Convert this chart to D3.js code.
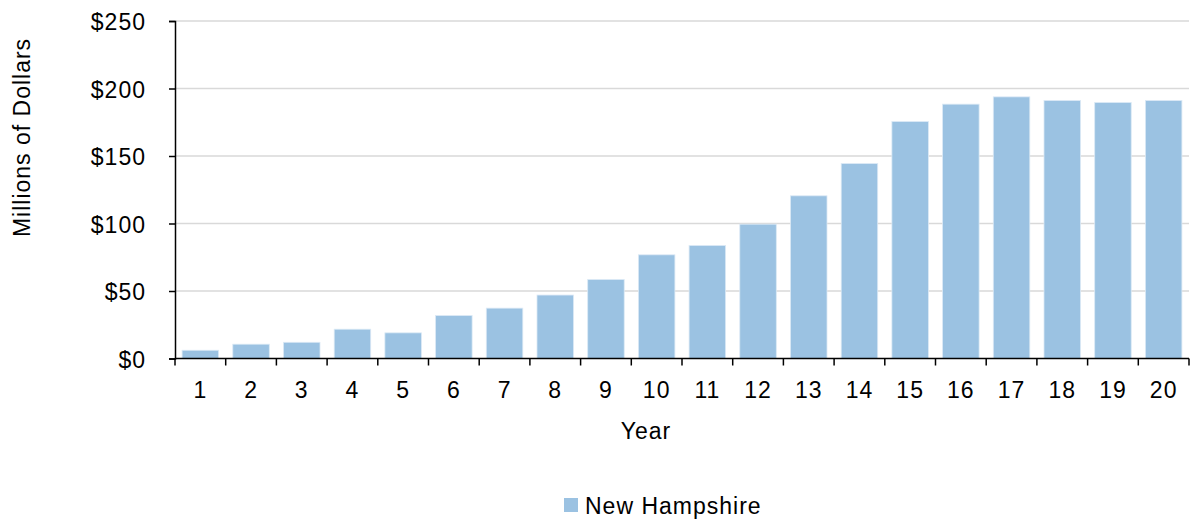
<!DOCTYPE html>
<html><head><meta charset="utf-8">
<script src="https://cdn.jsdelivr.net/npm/d3@7"></script>
<style>body{margin:0;background:#fff;} text{font-family:"Liberation Sans",Arial,sans-serif;}</style>
</head><body>
<svg id="chart" width="1193" height="521"></svg>
<script>
const years = ["1","2","3","4","5","6","7","8","9","10","11","12","13","14","15","16","17","18","19","20"];
const values = [6.1,10.6,12,21.7,19,31.8,37.3,47,58.5,76.8,83.7,99.5,120.5,144.4,175.5,188.4,193.8,191.1,189.6,191.1];
const yTicks = [0,50,100,150,200,250];
const seriesName = "New Hampshire";

(function () {
const svg = d3.select("#chart");
const mLeft = 175, mRight = 1189, mTop = 21, mBottom = 358.5;
const fs = 23, ls = 1.0;
const x = d3.scaleBand().domain(years).range([mLeft, mRight]).paddingInner(0.28).paddingOuter(0.14);
const y = d3.scaleLinear().domain([0, 250]).range([mBottom, mTop]);
const color = "#9bc2e2";

// gridlines
svg.append("g").selectAll("line").data(yTicks.filter(d => d > 0)).join("line")
  .attr("x1", mLeft).attr("x2", mRight).attr("y1", d => y(d)).attr("y2", d => y(d))
  .attr("stroke", "#d9d9d9").attr("stroke-width", 1.5);

// bars
svg.append("g").selectAll("rect").data(values).join("rect")
  .attr("x", (d, i) => x(years[i])).attr("width", x.bandwidth())
  .attr("y", d => y(d)).attr("height", d => y(0) - y(d))
  .attr("fill", color).attr("stroke", "#dbe9f5").attr("stroke-width", 0.8);

// y axis
const yAxis = svg.append("g").attr("transform", `translate(${mLeft},0)`)
  .call(d3.axisLeft(y).tickValues(yTicks).tickFormat(d => "$" + d).tickSize(6).tickPadding(23));
yAxis.select(".domain").attr("stroke", "#000").attr("stroke-width", 1.5);
yAxis.selectAll(".tick line").attr("stroke", "#000").attr("stroke-width", 1.5);
yAxis.selectAll("text").attr("font-size", fs).attr("letter-spacing", ls).attr("fill", "#000").attr("dy", "0.38em");

// x axis
const xAxis = svg.append("g").attr("transform", `translate(0,${mBottom})`)
  .call(d3.axisBottom(x).tickSize(0).tickPadding(23.5));
xAxis.select(".domain").attr("d", `M${mLeft},0H${mRight}`).attr("stroke", "#000").attr("stroke-width", 1.5);
xAxis.selectAll("text").attr("font-size", fs).attr("letter-spacing", ls).attr("fill", "#000");
const step = x.step();
const boundaries = d3.range(0, years.length + 1).map(i => mLeft + i * step);
xAxis.append("g").selectAll("line").data(boundaries).join("line")
  .attr("x1", d => d).attr("x2", d => d).attr("y1", 0).attr("y2", 7)
  .attr("stroke", "#000").attr("stroke-width", 1.5);

// axis titles
svg.append("text").attr("x", 646).attr("y", 439).attr("text-anchor", "middle")
  .attr("font-size", fs).attr("letter-spacing", ls).attr("fill", "#000").text("Year");
svg.append("text").attr("transform", "translate(29.5,137.5) rotate(-90)").attr("text-anchor", "middle")
  .attr("font-size", fs).attr("letter-spacing", ls).attr("fill", "#000").text("Millions of Dollars");

// legend
const lg = svg.append("g").attr("transform", "translate(564,498)");
lg.append("rect").attr("x", 0).attr("y", 0).attr("width", 14).attr("height", 14).attr("fill", color);
lg.append("text").attr("x", 21).attr("y", 16).attr("font-size", fs).attr("letter-spacing", ls).attr("fill", "#000").text(seriesName);
})();
</script>
</body></html>
